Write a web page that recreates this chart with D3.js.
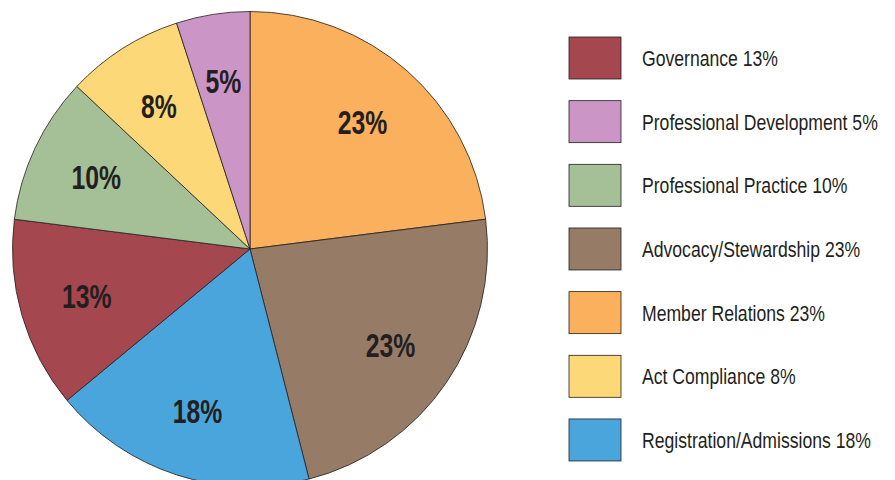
<!DOCTYPE html>
<html lang="en">
<head>
    <meta charset="UTF-8">
    <title>Pie chart</title>
    <style>
        body { margin: 0; background: #fff; }
        text { font-family: "Liberation Sans", Arial, sans-serif; fill: #231f20; }
    </style>
</head>
<body>
    <script src="https://cdn.jsdelivr.net/npm/d3@7"></script>
    <script>
        // slices, clockwise from 12 o'clock
        const categories = ['Member Relations', 'Advocacy/Stewardship', 'Registration/Admissions',
            'Governance', 'Professional Practice', 'Act Compliance', 'Professional Development'];
        const values = [23, 23, 18, 13, 10, 8, 5];
        const colors = ['#fab05c', '#967b67', '#4aa5dd', '#a5474e', '#a5c096', '#fdd878', '#cb96c5'];

        // legend order
        const legend_order = ['Governance', 'Professional Development', 'Professional Practice',
            'Advocacy/Stewardship', 'Member Relations', 'Act Compliance', 'Registration/Admissions'];

        const svg_w = 895;
        const svg_h = 480;
        const cx = 250, cy = 249, radius = 237.5;

        const slices = categories.map((c, i) => ({ name: c, value: values[i] }));
        const color = d3.scaleOrdinal(categories, colors);

        const svg = d3.select('body').append('svg')
            .attr('width', svg_w)
            .attr('height', svg_h);

        const pie = d3.pie().value(d => d.value).sort(null);
        const arc = d3.arc().innerRadius(0).outerRadius(radius);
        const label_arc = d3.arc().innerRadius(170).outerRadius(170);

        const g = svg.append('g').attr('transform', `translate(${cx},${cy})`);
        const arcs = pie(slices);

        g.selectAll('path')
            .data(arcs)
            .join('path')
            .attr('d', arc)
            .attr('fill', d => color(d.data.name))
            .attr('stroke', '#231f20')
            .attr('stroke-width', 0.8)
            .attr('stroke-linejoin', 'round');

        // condensed look: squeeze text horizontally
        g.selectAll('text')
            .data(arcs)
            .join('text')
            .attr('transform', d => `translate(${label_arc.centroid(d)}) scale(0.74,1)`)
            .attr('text-anchor', 'middle')
            .attr('dy', '0.36em')
            .style('font-size', '33.5px')
            .style('font-weight', 'bold')
            .text(d => d.data.value + '%');

        // legend
        const y_leg = d3.scaleBand(legend_order, [37, 37 + 63.66 * 7]).paddingInner(0);
        const leg = svg.append('g')
            .selectAll('g')
            .data(legend_order)
            .join('g')
            .attr('transform', d => `translate(569,${y_leg(d)})`);

        leg.append('rect')
            .attr('width', 52)
            .attr('height', 42)
            .attr('fill', d => color(d))
            .attr('stroke', '#231f20')
            .attr('stroke-width', 0.8);

        leg.append('text')
            .attr('transform', 'translate(73,29) scale(0.79,1)')
            .style('font-size', '22.3px')
            .text(d => d + ' ' + values[categories.indexOf(d)] + '%');
    </script>
</body>
</html>
